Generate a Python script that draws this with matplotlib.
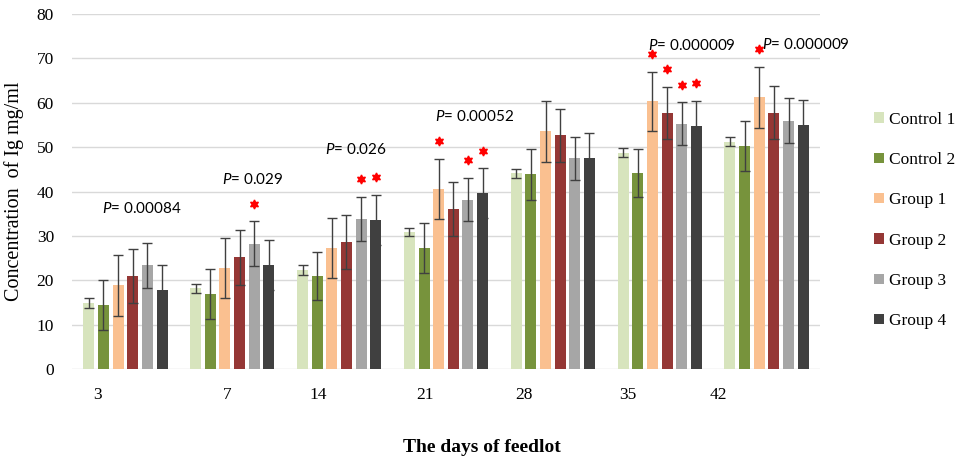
import matplotlib
matplotlib.use("Agg")
import matplotlib.pyplot as plt
from matplotlib.patches import Patch
import numpy as np

# ---------------- data ----------------
days = ["3", "7", "14", "21", "28", "35", "42"]
series = ["Control 1", "Control 2", "Group 1", "Group 2", "Group 3", "Group 4"]

control1 = [14.9, 18.2, 22.4, 30.9, 44.1, 48.8, 51.2]
control2 = [14.5, 17.0, 21.0, 27.3, 43.9, 44.2, 50.2]
group1 = [18.9, 22.8, 27.3, 40.6, 53.6, 60.3, 61.2]
group2 = [21.0, 25.2, 28.7, 36.1, 52.7, 57.8, 57.8]
group3 = [23.4, 28.3, 33.9, 38.2, 47.5, 55.3, 56.0]
group4 = [17.9, 23.4, 33.6, 39.7, 47.5, 54.8, 55.0]

control1_err = [1.1, 1.05, 1.1, 0.95, 0.95, 1.1, 1.0]
control2_err = [5.6, 5.6, 5.45, 5.65, 5.7, 5.45, 5.65]
group1_err = [6.8, 6.8, 6.8, 6.8, 6.85, 6.7, 6.85]
group2_err = [6.1, 6.2, 6.05, 6.1, 5.95, 5.85, 6.0]
group3_err = [5.0, 5.0, 4.9, 4.85, 4.8, 4.8, 5.0]
group4_err = [5.5, 5.65, 5.6, 5.55, 5.65, 5.6, 5.65]

p_values = ["0.00084", "0.029", "0.026", "0.00052", None, "0.000009", "0.000009"]
# significance stars: (day index, series index)
stars = [(1, 4), (2, 4), (2, 5), (3, 2), (3, 4), (3, 5),
         (5, 2), (5, 3), (5, 4), (5, 5), (6, 2)]

# ---------------- layout / style ----------------
colors = ["#d7e4bd", "#77933c", "#fac090", "#953735", "#a6a6a6", "#404040"]
tick_pos = [-0.266, 0.951, 1.803, 2.805, 3.732, 4.697, 5.549]
p_pos = [(-0.222, 36.3), (0.902, 42.7), (1.869, 49.5), (2.899, 57.0), None,
         (4.893, 72.8), (5.958, 73.2)]

plt.rcParams["mathtext.fontset"] = "custom"
plt.rcParams["mathtext.rm"] = "Lato"
plt.rcParams["mathtext.it"] = "Lato:italic"

values = [control1, control2, group1, group2, group3, group4]
errors = [control1_err, control2_err, group1_err, group2_err, group3_err, group4_err]

fig = plt.figure(figsize=(9.64, 4.62), dpi=100)
ax = fig.add_axes([72 / 964, 1 - 369.3 / 462, (820 - 72) / 964, (369.3 - 14) / 462])

x = np.arange(len(days))
pitch = 0.137
width = 0.103
for i, (vals, errs, c) in enumerate(zip(values, errors, colors)):
    off = (i - 2.5) * pitch
    ax.bar(x + off, vals, width=width, color=c, zorder=2, label=series[i])
    ax.errorbar(x + off, vals, yerr=errs, fmt="none", ecolor="#404040",
                elinewidth=1.0, capsize=3.3, capthick=1.0, zorder=3)

for d, s in stars:
    off = (s - 2.5) * pitch
    y = values[s][d] + errors[s][d] + 4.0
    ax.plot(x[d] + off, y, marker=(6, 1, 0), color="#ff0000", markersize=6.5,
            linestyle="none", zorder=4)

for pv, pos in zip(p_values, p_pos):
    if pv is None:
        continue
    ax.text(pos[0], pos[1], "$P$= " + pv, fontsize=11, family="Lato",
            ha="left", va="center", clip_on=False, zorder=5)

ax.set_xlim(-0.5, len(days) - 0.5)
ax.set_ylim(0, 80)
ax.set_yticks(np.arange(0, 81, 10))
ax.yaxis.grid(True, color="#d9d9d9", linewidth=1.0, zorder=0)
ax.set_axisbelow(True)
for sp in ax.spines.values():
    sp.set_visible(False)
ax.set_xticks(tick_pos)
ax.set_xticklabels(days, family="Liberation Serif", fontsize=12.5)
for lab in ax.get_yticklabels():
    lab.set_family("Liberation Serif")
    lab.set_fontsize(12.5)
ax.tick_params(axis="x", length=0, pad=13)
ax.tick_params(axis="y", length=0, pad=13)

ax.set_ylabel("Concentration  of Ig mg/ml", family="Liberation Serif", fontsize=14.5,
              labelpad=9)
fig.text(482 / 964, 1 - 448 / 462, "The days of feedlot", family="Liberation Serif",
         fontsize=14, fontweight="bold", ha="center", va="center")

handles = [Patch(facecolor=c, edgecolor="none") for c in colors]
fig.legend(handles, series, loc="center left", bbox_to_anchor=(874 / 964, 1 - 220.5 / 462),
           frameon=False, prop={"family": "Liberation Serif", "size": 12.5},
           handlelength=0.55, handleheight=0.55, handletextpad=0.3,
           labelspacing=1.4, borderpad=0, borderaxespad=0)

fig.savefig("out.png", dpi=100)
